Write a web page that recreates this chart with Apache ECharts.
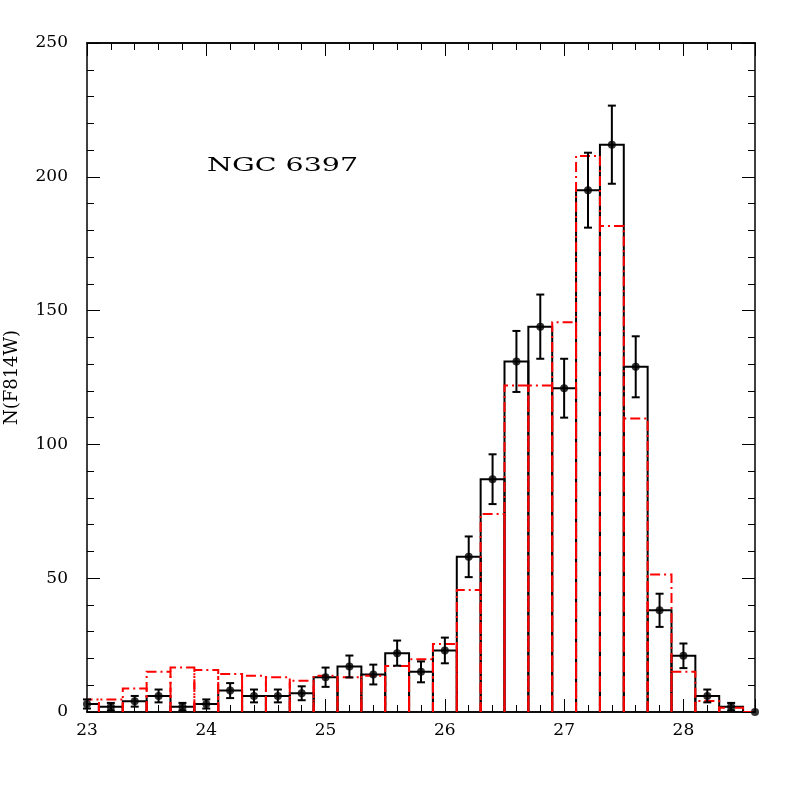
<!DOCTYPE html>
<html><head><meta charset="utf-8">
<script src="https://cdn.jsdelivr.net/npm/echarts@6/dist/echarts.min.js"></script>
<style>html,body{margin:0;padding:0;background:#fff}#c{width:797px;height:797px}</style>
</head><body><div id="c"></div>
<script>
// bin centres (F814W magnitude), bin width 0.2
const binCenters = [23.0,23.2,23.4,23.6,23.8,24.0,24.2,24.4,24.6,24.8,25.0,25.2,25.4,25.6,25.8,26.0,26.2,26.4,26.6,26.8,27.0,27.2,27.4,27.6,27.8,28.0,28.2,28.4,28.6];
const binWidth = 0.2;
// observed counts (black histogram + points)
const observed = [3,2,4,6,2,3,8,6,6,7,13,17,14,22,15,23,58,87,131,144,121,195,212,129,38,21,6,2,0];
// observed error bars
const observedErr = [1.7,1.4,2,2.4,1.4,1.7,2.8,2.4,2.4,2.6,3.6,4.1,3.7,4.7,3.9,4.8,7.6,9.3,11.4,12,11,14,14.6,11.4,6.2,4.6,2.4,1.4,0];
// model counts (red dash-dot histogram)
const model = [4.7,4.7,8.8,15,16.6,15.7,14.2,13.5,13,11.7,13.5,13,13.5,17.2,19.7,25.4,45.6,74,122,122,145.6,207.8,181.6,109.7,51.4,15,4.1,1.6,0];
const xTicks = [23,24,25,26,27,28];
const yTicks = [0,50,100,150,200,250];
const title = 'NGC 6397';
const yName = 'N(F814W)';

const FONT = 'DejaVu Serif';
const half = binWidth / 2;

function histRender(color, dash) {
  return function (params, api) {
    const c = api.value(0), v = api.value(1);
    const pts = [
      api.coord([c - half, 0]), api.coord([c - half, v]),
      api.coord([c + half, v]), api.coord([c + half, 0])
    ];
    return { type: 'polyline', shape: { points: pts },
      style: { stroke: color, lineWidth: 2, fill: null, lineDash: dash } };
  };
}

const lineCol = '#000';
function xAxisCfg(pos, interval, len, labels) {
  return {
    type: 'value', min: 23, max: 28.6, interval: interval, position: pos,
    axisLine: { show: true, onZero: false, lineStyle: { color: lineCol, width: 1.5 } },
    axisTick: { show: true, inside: true, length: len, lineStyle: { color: lineCol, width: 1 } },
    axisLabel: labels ? { show: true, color: '#000', fontFamily: FONT, fontSize: 17, margin: 10,
      formatter: v => (xTicks.indexOf(Math.round(v * 1000) / 1000) >= 0 ? String(v) : '') } : { show: false },
    splitLine: { show: false }
  };
}
function yAxisCfg(pos, labels) {
  return {
    type: 'value', min: 0, max: 250, interval: 50, position: pos,
    axisLine: { show: true, onZero: false, lineStyle: { color: lineCol, width: 1.5 } },
    axisTick: { show: true, inside: true, length: 13, lineStyle: { color: lineCol, width: 1 } },
    minorTick: { show: true, splitNumber: 5, length: 7, lineStyle: { color: lineCol, width: 1 } },
    axisLabel: labels ? { show: true, color: '#000', fontFamily: FONT, fontSize: 17, margin: 19,
      formatter: v => (yTicks.indexOf(v) >= 0 ? String(v) : '') } : { show: false },
    splitLine: { show: false },
    name: labels ? yName : '', nameLocation: 'middle', nameGap: 66,
    nameTextStyle: { color: '#000', fontFamily: FONT, fontSize: 18 }
  };
}

const chart = echarts.init(document.getElementById('c'), null, { renderer: 'canvas' });
chart.setOption({
  animation: false,
  backgroundColor: '#fff',
  grid: { left: 87, right: 42, top: 43, bottom: 85, containLabel: false, outerBoundsMode: 'none' },
  xAxis: [
    xAxisCfg('bottom', 1, 13, true),
    xAxisCfg('bottom', 0.2, 7, false),
    xAxisCfg('top', 1, 13, false),
    xAxisCfg('top', 0.2, 7, false)
  ],
  yAxis: [yAxisCfg('left', true), yAxisCfg('right', false)],
  graphic: [{
    type: 'text', left: 207, top: 157, scaleX: 1.5,
    style: { text: title, fontFamily: FONT, fontSize: 19, fill: '#000' }
  }],
  series: [
    { type: 'custom', clip: true, xAxisIndex: 0, yAxisIndex: 0,
      renderItem: histRender('#000', null),
      data: binCenters.map((c, i) => [c, observed[i]]), z: 2 },
    { type: 'custom', clip: true, xAxisIndex: 0, yAxisIndex: 0,
      renderItem: histRender('#ff0000', [10, 4, 2, 4]),
      data: binCenters.map((c, i) => [c, model[i]]), z: 3 },
    { type: 'custom', clip: false, xAxisIndex: 0, yAxisIndex: 0, z: 4,
      renderItem: function (params, api) {
        const c = api.value(0), v = api.value(1), e = api.value(2);
        if (!e) return null;
        const top = api.coord([c, v + e]), bot = api.coord([c, v - e]);
        const w = 4;
        const st = { stroke: '#000', lineWidth: 2 };
        return { type: 'group', children: [
          { type: 'line', shape: { x1: top[0], y1: top[1], x2: bot[0], y2: bot[1] }, style: st },
          { type: 'line', shape: { x1: top[0] - w, y1: top[1], x2: top[0] + w, y2: top[1] }, style: st },
          { type: 'line', shape: { x1: bot[0] - w, y1: bot[1], x2: bot[0] + w, y2: bot[1] }, style: st }
        ] };
      },
      data: binCenters.map((c, i) => [c, observed[i], observedErr[i]]) },
    { type: 'scatter', clip: false, xAxisIndex: 0, yAxisIndex: 0, z: 5,
      symbol: 'circle', symbolSize: 8, itemStyle: { color: '#000' },
      data: binCenters.map((c, i) => [c, observed[i]]) }
  ]
});
</script></body></html>
